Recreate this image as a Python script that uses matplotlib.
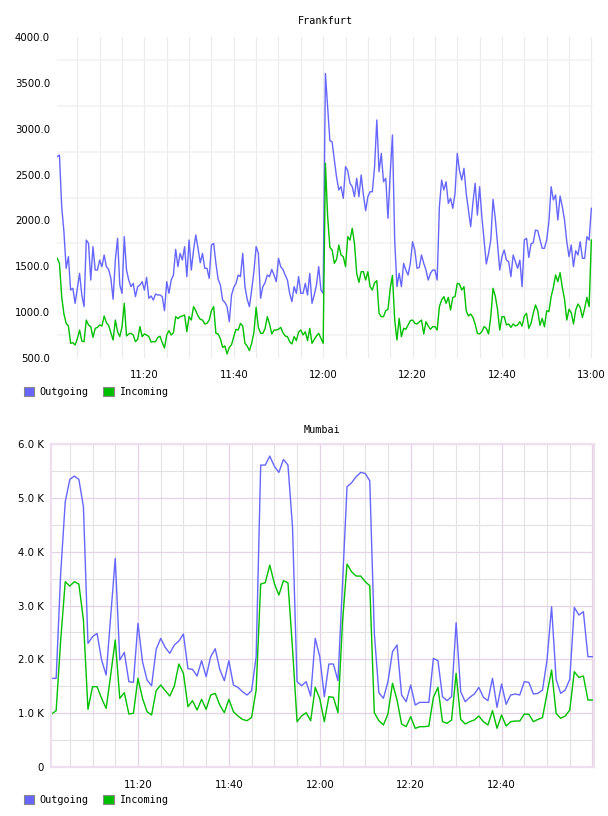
import matplotlib
matplotlib.use("Agg")
import matplotlib.pyplot as plt
import matplotlib.dates as mdates
from matplotlib.patches import Patch
from matplotlib.ticker import MultipleLocator, FuncFormatter
import pandas as pd

# 数据：法兰克福每30秒一个点，孟买每分钟一个点
fra_times = pd.date_range("2024-01-01 11:00:30", periods=240, freq="30s")
fra_out = [
    2695, 2713, 2150, 1877, 1478, 1605, 1241, 1260, 1096, 1260,
    1423, 1187, 1060, 1786, 1750, 1350, 1714, 1459, 1459, 1568,
    1496, 1623, 1496, 1466, 1369, 1140, 1568, 1805, 1296, 1205,
    1823, 1459, 1350, 1278, 1314, 1169, 1278, 1296, 1332, 1241,
    1379, 1151, 1176, 1132, 1198, 1187, 1187, 1169, 1016, 1332,
    1205, 1350, 1405, 1685, 1496, 1641, 1568, 1714, 1387, 1786,
    1459, 1677, 1841, 1696, 1539, 1641, 1478, 1478, 1369, 1732,
    1750, 1532, 1358, 1296, 1132, 1107, 1060, 896, 1187, 1270,
    1314, 1405, 1387, 1641, 1278, 1140, 1060, 1241, 1441, 1714,
    1641, 1151, 1278, 1321, 1405, 1387, 1466, 1405, 1332, 1587,
    1496, 1466, 1405, 1350, 1205, 1114, 1278, 1205, 1387, 1205,
    1205, 1314, 1187, 1423, 1096, 1187, 1296, 1496, 1241, 1205,
    3603, 3240, 2869, 2858, 2659, 2470, 2332, 2368, 2241, 2586,
    2542, 2404, 2368, 2259, 2459, 2259, 2495, 2277, 2106, 2259,
    2313, 2313, 2586, 3095, 2531, 2731, 2422, 2459, 2023, 2513,
    2931, 1786, 1278, 1423, 1278, 1532, 1459, 1405, 1532, 1768,
    1677, 1478, 1488, 1623, 1532, 1459, 1350, 1423, 1459, 1459,
    1350, 2150, 2440, 2332, 2422, 2186, 2241, 2132, 2295, 2731,
    2542, 2440, 2568, 2295, 2113, 1932, 2193, 2404, 2059, 2368,
    2041, 1786, 1525, 1641, 1786, 2230, 2023, 1750, 1459, 1605,
    1677, 1568, 1550, 1387, 1623, 1550, 1478, 1568, 1278, 1786,
    1805, 1597, 1743, 1757, 1895, 1888, 1794, 1696, 1696, 1786,
    1986, 2368, 2223, 2277, 2004, 2266, 2150, 2004, 1768, 1605,
    1732, 1496, 1670, 1623, 1768, 1587, 1587, 1823, 1786, 2132,
]
fra_in = [
    1587, 1532, 1169, 980, 878, 849, 660, 667, 642, 711,
    805, 685, 678, 914, 860, 842, 725, 823, 834, 860,
    849, 958, 885, 856, 776, 696, 914, 787, 733, 842,
    1096, 740, 762, 769, 751, 678, 703, 842, 733, 762,
    751, 733, 674, 678, 678, 725, 736, 667, 609, 751,
    798, 751, 776, 951, 929, 951, 958, 969, 787, 951,
    914, 1060, 1016, 958, 922, 914, 871, 878, 914, 1016,
    1060, 769, 762, 711, 616, 631, 544, 616, 645, 733,
    813, 805, 878, 849, 660, 631, 580, 660, 776, 1052,
    834, 769, 769, 820, 951, 871, 762, 805, 805, 813,
    834, 776, 740, 733, 678, 653, 733, 689, 783, 805,
    751, 787, 689, 823, 660, 703, 740, 769, 714, 660,
    2622, 2041, 1706, 1677, 1532, 1576, 1732, 1623, 1605, 1496,
    1823, 1786, 1914, 1750, 1423, 1325, 1441, 1441, 1350, 1441,
    1278, 1241, 1321, 1343, 987, 951, 951, 1016, 1031, 1260,
    1400, 914, 696, 932, 733, 823, 813, 860, 907, 914,
    878, 871, 892, 914, 762, 896, 849, 813, 842, 842,
    805, 1060, 1132, 1169, 1096, 1161, 1023, 1161, 1169, 1314,
    1307, 1241, 1278, 1016, 958, 980, 943, 871, 769, 762,
    787, 842, 823, 762, 951, 1260, 1176, 1031, 805, 951,
    951, 860, 871, 834, 871, 849, 860, 896, 849, 958,
    987, 823, 878, 987, 1078, 1016, 856, 932, 842, 1016,
    1005, 1169, 1270, 1405, 1332, 1430, 1270, 1140, 914, 1031,
    994, 871, 1023, 1089, 1052, 943, 1041, 1161, 1060, 1786,
]

mum_times = pd.date_range("2024-01-01 11:01:00", periods=120, freq="60s")
mum_out = [
    1647, 1647, 3600, 4927, 5342, 5404, 5342, 4834, 2296, 2420,
    2482, 1987, 1708, 2800, 3875, 1987, 2129, 1585, 1572, 2668,
    1956, 1616, 1510, 2185, 2389, 2222, 2111, 2266, 2340, 2470,
    1826, 1814, 1690, 1975, 1677, 2049, 2197, 1814, 1603, 1975,
    1523, 1479, 1399, 1337, 1418, 2049, 5608, 5608, 5775, 5589,
    5472, 5713, 5608, 4463, 1585, 1510, 1585, 1318, 2389, 2049,
    1306, 1913, 1913, 1603, 3400, 5206, 5280, 5392, 5472, 5453,
    5317, 2482, 1380, 1275, 1585, 2142, 2266, 1337, 1213, 1523,
    1151, 1201, 1201, 1201, 2018, 1975, 1306, 1232, 1306, 2680,
    1399, 1213, 1294, 1356, 1479, 1294, 1232, 1647, 1108, 1541,
    1164, 1337, 1356, 1337, 1585, 1572, 1356, 1368, 1430, 1987,
    2977, 1628, 1368, 1430, 1628, 2965, 2823, 2885, 2049, 2049,
]
mum_in = [
    984, 1046, 2358, 3442, 3361, 3442, 3398, 2730, 1071, 1492,
    1492, 1275, 1089, 1708, 2358, 1275, 1380, 984, 997, 1647,
    1275, 1028, 966, 1418, 1523, 1418, 1318, 1504, 1913, 1739,
    1120, 1232, 1058, 1257, 1071, 1337, 1368, 1151, 1009, 1257,
    1028, 947, 885, 860, 922, 1430, 3398, 3423, 3751, 3411,
    3194, 3460, 3423, 2204, 842, 947, 1009, 860, 1479, 1270,
    842, 1306, 1294, 1009, 2700, 3770, 3627, 3547, 3547, 3442,
    3367, 1009, 860, 780, 984, 1554, 1244, 799, 749, 935,
    718, 749, 749, 761, 1294, 1479, 842, 811, 873, 1739,
    885, 799, 842, 873, 947, 842, 780, 1046, 718, 966,
    761, 842, 854, 854, 984, 978, 842, 885, 916, 1368,
    1801, 997, 904, 947, 1058, 1770, 1665, 1690, 1244, 1244,
]

series_names = ["Outgoing", "Incoming"]
BLUE = "#6666ff"
GREEN = "#00c000"

plt.rcParams["font.family"] = ["DejaVu Sans"]
plt.rcParams["font.size"] = 7.3

fig = plt.figure(figsize=(6.08, 8.16), dpi=100)
W, H = 608.0, 816.0

# ---------------- Frankfurt ----------------
ax1 = fig.add_axes([57 / W, 1 - 358 / H, 536 / W, 321 / H])
ax1.plot(fra_times, fra_out, color=BLUE, lw=1.0)
ax1.plot(fra_times, fra_in, color=GREEN, lw=1.0)
ax1.set_ylim(500, 4000)
ax1.set_xlim(pd.Timestamp("2024-01-01 11:00:27"), pd.Timestamp("2024-01-01 13:00:22"))
ax1.yaxis.set_major_locator(MultipleLocator(500))
# 水平网格只画在 x.750 / x.250 处
ax1.yaxis.set_minor_locator(MultipleLocator(500, offset=250))
ax1.yaxis.set_major_formatter(FuncFormatter(lambda v, p: "%.1f" % v))
ax1.xaxis.set_major_locator(mdates.MinuteLocator(byminute=[0, 20, 40]))
ax1.xaxis.set_minor_locator(mdates.MinuteLocator(byminute=range(0, 60, 5)))
ax1.xaxis.set_major_formatter(mdates.DateFormatter("%H:%M"))
for s in ax1.spines.values():
    s.set_visible(False)
ax1.grid(False)
ax1.grid(True, axis="x", which="both", color="#ebebeb", lw=0.8)
ax1.grid(True, axis="y", which="minor", color="#f1f1f1", lw=1.1)
ax1.tick_params(which="both", length=0)
ax1.tick_params(axis="y", pad=5)
ax1.tick_params(axis="x", pad=8.5)
ax1.set_axisbelow(True)
ax1.set_title("Frankfurt", family="DejaVu Sans Mono", fontsize=7.3, pad=9)

# ---------------- Mumbai ----------------
ax2 = fig.add_axes([50.7 / W, 1 - 767 / H, 543.3 / W, 323 / H])
ax2.plot(mum_times, mum_out, color=BLUE, lw=1.0)
ax2.plot(mum_times, mum_in, color=GREEN, lw=1.0)
ax2.set_ylim(0, 6000)
ax2.set_xlim(pd.Timestamp("2024-01-01 11:00:48"), pd.Timestamp("2024-01-01 13:00:20"))
ax2.yaxis.set_major_locator(MultipleLocator(1000))
ax2.yaxis.set_minor_locator(MultipleLocator(500))
ax2.yaxis.set_major_formatter(FuncFormatter(lambda v, p: "0" if v == 0 else "%.1f K" % (v / 1000)))
ax2.xaxis.set_major_locator(mdates.MinuteLocator(byminute=[0, 20, 40]))
ax2.xaxis.set_minor_locator(mdates.MinuteLocator(byminute=range(0, 60, 5)))


def mum_time_label(v, p):
    t = mdates.num2date(v)
    if t.hour == 13:
        return ""
    return t.strftime("%H:%M")


ax2.xaxis.set_major_formatter(FuncFormatter(mum_time_label))
for s in ax2.spines.values():
    s.set_color("#eddfed")
    s.set_linewidth(1.6)
ax2.grid(True, which="major", color="#e6d2e6", lw=0.9)
ax2.grid(True, which="minor", color="#e2e2e2", lw=0.8)
ax2.tick_params(which="both", length=0)
ax2.tick_params(axis="y", pad=5)
ax2.tick_params(axis="x", pad=9)
ax2.set_axisbelow(True)
ax2.set_title("Mumbai", family="DejaVu Sans Mono", fontsize=7.3, pad=8)

# 图例
for ycen in (392, 800):
    handles = [Patch(facecolor=BLUE, edgecolor="#888888", lw=0.8),
               Patch(facecolor=GREEN, edgecolor="#888888", lw=0.8)]
    fig.legend(handles, series_names, loc="center left",
               bbox_to_anchor=(24 / W, 1 - ycen / H), ncol=2, frameon=False,
               handlelength=1.0, handleheight=1.0, handletextpad=0.5,
               columnspacing=1.5, borderpad=0, borderaxespad=0,
               prop={"family": "DejaVu Sans Mono", "size": 7.3})

fig.savefig("out.png", dpi=100)
